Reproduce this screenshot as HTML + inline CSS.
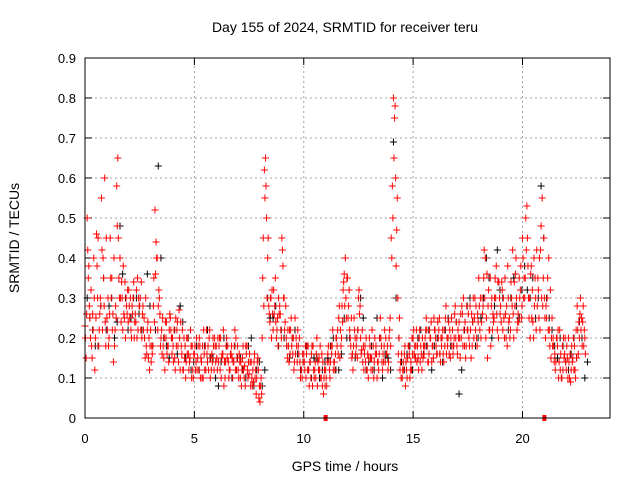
<!DOCTYPE html>
<html><head><meta charset="utf-8"><style>
body{margin:0;background:#fff}
svg{display:block;font-family:"Liberation Sans",sans-serif}
</style></head><body>
<svg id="chart" width="640" height="480" viewBox="0 0 640 480" xmlns="http://www.w3.org/2000/svg">
<rect width="640" height="480" fill="#fff"/>
<text x="345" y="32" font-size="14" text-anchor="middle">Day 155 of 2024, SRMTID for receiver teru</text>
<text transform="translate(19,238) rotate(-90)" font-size="14" text-anchor="middle">SRMTID / TECUs</text>
<text x="345" y="471" font-size="14" text-anchor="middle">GPS time / hours</text>
<g id="grid"></g>
<g id="axes"></g>
<g id="black-series" stroke="#000" stroke-width="1"></g>
<g id="red-series" stroke="#f00" stroke-width="1"></g>
<rect x="85" y="58" width="525" height="360" fill="none" stroke="#000" stroke-width="1"/>
</svg>
<script>
const xTicks=[0,5,10,15,20];
const yTicks=[0,0.1,0.2,0.3,0.4,0.5,0.6,0.7,0.8,0.9];
const yTickLabels=["0","0.1","0.2","0.3","0.4","0.5","0.6","0.7","0.8","0.9"];
const markerTimes=[11,21];
const redA=[.23,.50,.28,.18,.40,.25,.45,.30,.22,.60,
.25,.20,.30,.14,.28,.65,.40,.30,.25,.28,
.32,.22,.30,.26,.35,.28,.20,.25,.18,.15,
.22,.18,.52,.40,.30,.22,.15,.20,.18,.25,
.20,.15,.22,.27,.18,.12,.10,.20,.15,.18,
.16,.20,.12,.15,.10,.18,.14,.22,.16,.12,
.18,.14,.20,.16,.10,.15,.12,.18,.14,.20,
.12,.10,.15,.13,.18,.11,.14,.09,.12,.15,
.04,.20,.62,.50,.28,.30,.22,.35,.25,.28,
.45,.30,.20,.18,.22,.16,.25,.14,.20,.12,
.16,.10,.18,.14,.08,.12,.20,.15,.10,.06,
.12,.16,.10,.18,.14,.20,.25,.18,.32,.40,
.35,.22,.15,.25,.18,.30,.20,.14,.18,.12,
.20,.15,.10,.18,.14,.25,.12,.22,.16,.20,
.45,.80,.60,.30,.12,.10,.16,.12,.18,.14,
.20,.15,.18,.22,.12,.16,.25,.14,.20,.18,
.22,.16,.25,.18,.14,.28,.20,.15,.22,.26,
.18,.24,.20,.30,.15,.22,.28,.18,.25,.20,
.35,.20,.28,.40,.15,.22,.30,.25,.38,.20,
.28,.22,.35,.18,.25,.30,.20,.40,.26,.32,
.45,.30,.53,.25,.38,.20,.30,.35,.22,.55,
.30,.25,.40,.15,.20,.12,.18,.22,.10,.15,
.12,.20,.09,.15,.12,.28,.20,.25,.18];
const redB=[.15,.35,.20,.26,.12,.38,.22,.55,.35,.18,
.30,.45,.22,.18,.58,.35,.24,.38,.20,.32,
.25,.28,.20,.32,.30,.22,.28,.15,.22,.12,
.18,.35,.44,.28,.18,.25,.12,.16,.22,.20,
.14,.25,.18,.12,.22,.15,.20,.12,.18,.10,
.12,.15,.18,.10,.16,.22,.12,.15,.20,.18,
.12,.20,.15,.08,.18,.14,.16,.10,.22,.15,
.16,.08,.12,.18,.10,.14,.08,.16,.10,.05,
.10,.45,.65,.40,.24,.32,.26,.20,.30,.22,
.38,.24,.15,.22,.18,.12,.20,.18,.10,.16,
.12,.18,.08,.16,.12,.10,.14,.18,.08,.12,
.08,.14,.18,.12,.16,.22,.15,.28,.36,.25,
.28,.18,.12,.20,.15,.26,.17,.12,.20,.10,
.15,.12,.20,.10,.16,.18,.14,.20,.12,.25,
.58,.75,.47,.20,.10,.14,.08,.15,.10,.20,
.16,.22,.12,.18,.15,.20,.18,.22,.14,.25,
.18,.20,.14,.22,.18,.20,.16,.25,.18,.20,
.22,.15,.26,.18,.28,.20,.15,.30,.22,.26,
.22,.30,.42,.25,.32,.18,.26,.35,.22,.30,
.34,.25,.20,.30,.22,.42,.28,.22,.35,.25,
.30,.50,.38,.20,.32,.28,.42,.25,.48,.35,
.20,.35,.18,.25,.14,.20,.10,.16,.12,.20,
.15,.10,.18,.12,.22,.16,.30,.24,.20];
const redC=[.20,.42,.25,.15,.30,.46,.18,.28,.40,.24,
.22,.26,.35,.40,.25,.45,.30,.22,.34,.26,
.28,.20,.34,.24,.22,.30,.26,.20,.16,.20,
.14,.28,.36,.22,.26,.16,.20,.24,.14,.22,
.18,.12,.24,.20,.16,.20,.14,.16,.22,.12,
.18,.12,.20,.14,.22,.12,.18,.10,.14,.20,
.15,.18,.10,.22,.14,.18,.12,.15,.18,.12,
.10,.14,.18,.08,.12,.16,.10,.14,.06,.12,
.08,.35,.55,.30,.26,.20,.32,.24,.18,.26,
.42,.22,.18,.14,.25,.20,.16,.22,.14,.10,
.14,.16,.12,.10,.18,.14,.08,.12,.16,.10,
.10,.18,.14,.22,.12,.18,.28,.20,.34,.30,
.25,.20,.16,.22,.20,.32,.16,.18,.14,.16,
.18,.22,.14,.16,.12,.20,.16,.14,.18,.22,
.40,.65,.38,.16,.14,.12,.18,.10,.16,.12,
.22,.18,.15,.14,.20,.18,.22,.16,.24,.15,
.20,.24,.16,.20,.22,.16,.24,.20,.16,.28,
.16,.20,.28,.22,.18,.26,.22,.24,.30,.18,
.28,.24,.35,.20,.28,.35,.22,.30,.26,.34,
.24,.30,.26,.38,.20,.28,.34,.30,.24,.38,
.40,.35,.45,.30,.25,.40,.22,.32,.42,.28,
.25,.30,.22,.20,.18,.14,.22,.12,.18,.16,
.18,.14,.12,.20,.10,.22,.26,.18,.22];
const redD=[.26,.38,.32,.22,.20,.30,.26,.42,.28,.45,
.18,.35,.26,.22,.48,.30,.34,.26,.30,.24,
.30,.26,.24,.20,.28,.34,.22,.30,.24,.18,
.16,.24,.40,.32,.20,.18,.24,.18,.26,.16,
.22,.18,.14,.24,.12,.18,.16,.14,.10,.16,
.14,.18,.10,.18,.12,.16,.20,.12,.18,.14,
.20,.12,.16,.14,.20,.10,.16,.14,.12,.18,
.14,.12,.10,.16,.14,.08,.12,.10,.14,.08,
.06,.28,.58,.45,.30,.26,.28,.22,.26,.20,
.30,.28,.22,.16,.20,.14,.18,.16,.12,.14,
.18,.12,.14,.18,.10,.16,.12,.10,.14,.08,
.14,.12,.16,.14,.20,.16,.22,.24,.28,.35,
.32,.25,.18,.16,.22,.28,.22,.16,.12,.15,
.12,.18,.16,.14,.20,.14,.18,.16,.14,.18,
.50,.78,.55,.25,.16,.12,.14,.18,.12,.16,
.18,.14,.20,.16,.18,.22,.14,.20,.18,.22,
.16,.22,.20,.16,.25,.18,.22,.18,.20,.24,
.20,.26,.18,.24,.22,.18,.26,.20,.28,.24,
.30,.26,.30,.36,.22,.28,.24,.30,.34,.26,
.32,.20,.28,.24,.34,.26,.36,.24,.30,.28,
.35,.42,.30,.36,.24,.35,.28,.40,.30,.45,
.28,.22,.32,.18,.16,.20,.14,.10,.20,.14,
.10,.16,.14,.18,.15,.24,.22,.28,.16];
const blackVals=[.30,.22,.18,.35,.28,.20,.48,.30,.25,.30,.22,.36,.18,.63,.20,.15,
.22,.28,.15,.12,.18,.10,.22,.15,.08,.20,.12,.18,.15,.10,.20,.12,
.08,.30,.25,.18,.20,.15,.22,.12,.18,.10,.15,.12,.15,.20,.12,.25,
.20,.15,.30,.12,.18,.25,.10,.15,.69,.20,.12,.18,.15,.22,.18,.12,
.20,.14,.25,.18,.06,.22,.30,.18,.25,.40,.20,.42,.30,.22,.35,.25,
.38,.30,.25,.58,.30,.22,.15,.18,.12,.20,.24,.10];
const blackVals2=[.25,.18,.28,.22,.30,.24,.36,.22,.30,.26,.20,.28,.22,.40,.18,.20,
.16,.24,.20,.14,.12,.18,.15,.10,.14,.18,.10,.15,.12,.18,.08,.14,
.12,.25,.28,.22,.18,.20,.16,.14,.12,.15,.10,.14,.18,.12,.16,.20,
.16,.22,.25,.14,.12,.20,.16,.12,.30,.14,.16,.12,.20,.16,.22,.18,
.16,.22,.18,.24,.12,.28,.24,.20,.30,.35,.28,.32,.26,.30,.28,.32,
.32,.35,.30,.45,.25,.18,.20,.14,.16,.15,.20,.14];
const X0=85,X1=610,XMAX=24,Y0=418,Y1=58,YMAX=0.9;
function xs(t){return X0+(X1-X0)*t/XMAX;}
function ys(v){return Y0-(Y0-Y1)*v/YMAX;}
const NS="http://www.w3.org/2000/svg";
function mk(tag,attrs,parent){const e=document.createElementNS(NS,tag);for(const k in attrs)e.setAttribute(k,attrs[k]);parent.appendChild(e);return e;}
const grid=document.getElementById('grid'),axes=document.getElementById('axes');
xTicks.forEach(t=>{
 const x=xs(t);
 if(t>0){const g=mk('line',{x1:x,y1:Y0,x2:x,y2:Y1,stroke:'#a0a0a0','stroke-dasharray':'2,3'},grid);
 
 }
 const a=mk('line',{x1:x,y1:Y0,x2:x,y2:Y0-7,stroke:'#000'},axes);
 
 
 const b=mk('line',{x1:x,y1:Y1,x2:x,y2:Y1+7,stroke:'#000'},axes);
 
 
 const l=mk('text',{x:x,y:443,'font-size':13,'text-anchor':'middle'},axes);l.textContent=t;
 
 
});
yTicks.forEach((v,i)=>{
 const y=ys(v);
 if(i>0&&i<yTicks.length-1){const g=mk('line',{x1:X0,y1:y,x2:X1,y2:y,stroke:'#a0a0a0','stroke-dasharray':'2,3'},grid);
 
 }
 const a=mk('line',{x1:X0,y1:y,x2:X0+7,y2:y,stroke:'#000'},axes);
 
 
 const b=mk('line',{x1:X1,y1:y,x2:X1-7,y2:y,stroke:'#000'},axes);
 
 
 const l=mk('text',{x:76,y:y+5,'font-size':13,'text-anchor':'end'},axes);l.textContent=yTickLabels[i];
 
 
});
function plus(parent,t,v,name){
 const x=xs(t),y=ys(v);
 const p=mk('path',{d:`M${x-3.5} ${y}H${x+3.5}M${x} ${y-3.5}V${y+3.5}`,fill:'none'},parent);
 
 
}
const bg=document.getElementById('black-series'),rg=document.getElementById('red-series');
blackVals.forEach((v,i)=>plus(bg,i*0.25+0.1,v,'black-point'));
blackVals2.forEach((v,i)=>plus(bg,i*0.25+0.22,v,'black-point'));
redA.forEach((v,i)=>plus(rg,i*0.1,v,'red-point'));
redB.forEach((v,i)=>plus(rg,i*0.1+0.05,v,'red-point'));
redC.forEach((v,i)=>plus(rg,i*0.1+0.025,v,'red-point'));
redD.forEach((v,i)=>plus(rg,i*0.1+0.075,v,'red-point'));
markerTimes.forEach(t=>{
 const r=mk('rect',{x:xs(t)-2,y:Y0-3,width:4,height:6,fill:'#f00'},axes);
 
 
});
</script>
</body></html>
